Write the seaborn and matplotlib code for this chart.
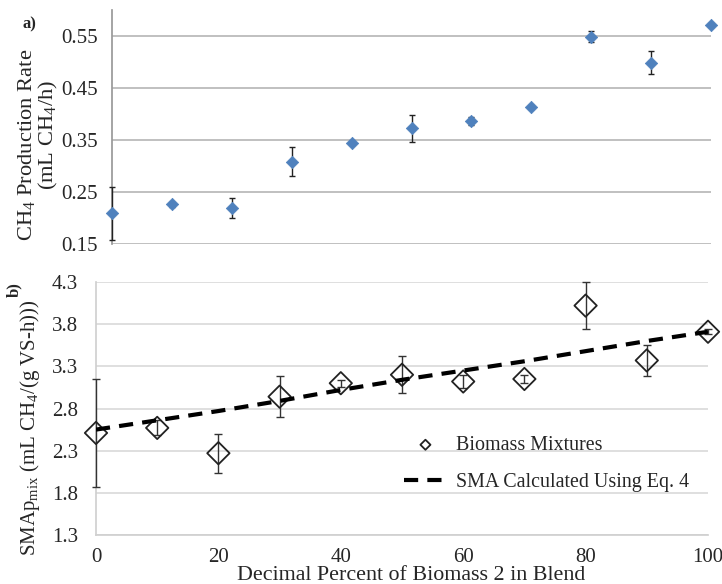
import numpy as np
import pandas as pd
import matplotlib
matplotlib.use("Agg")
import matplotlib.pyplot as plt
import seaborn as sns

# values
blend = [0, 10, 20, 30, 40, 50, 60, 70, 80, 90, 100]
rate = [0.209, 0.226, 0.219, 0.308, 0.344, 0.373, 0.387, 0.414, 0.549, 0.499, 0.571]
rate_err = [0.051, 0.004, 0.019, 0.028, 0.004, 0.026, 0.008, 0.004, 0.011, 0.023, 0.004]
sma = [2.51, 2.57, 2.27, 2.94, 3.10, 3.20, 3.12, 3.15, 4.02, 3.37, 3.71]
sma_err = [0.64, 0.09, 0.23, 0.24, 0.04, 0.22, 0.08, 0.05, 0.28, 0.18, 0.03]
sma_calc = [2.55, 2.66, 2.77, 2.89, 3.02, 3.14, 3.25, 3.36, 3.48, 3.60, 3.71]

df = pd.DataFrame({"blend": blend, "rate": rate, "rate_err": rate_err,
                   "sma": sma, "sma_err": sma_err, "sma_calc": sma_calc})

sns.set_theme(style="white")
plt.rcParams["font.family"] = ["Liberation Serif", "DejaVu Serif"]
plt.rcParams["mathtext.fontset"] = "custom"
plt.rcParams["mathtext.rm"] = "Liberation Serif"
plt.rcParams["mathtext.it"] = "Liberation Serif"

W, H = 722, 584
fig = plt.figure(figsize=(W / 100, H / 100), dpi=100)

def frac(x0, y0, x1, y1):
    return [x0 / W, 1 - y1 / H, (x1 - x0) / W, (y1 - y0) / H]

tick_fs = 15

# panel a
ax1 = fig.add_axes(frac(112, 10, 711, 244))
eb = ax1.errorbar(df["blend"], df["rate"], yerr=df["rate_err"], fmt="none",
                  ecolor="#222222", elinewidth=1.0, capsize=2.5, capthick=1.0, zorder=3)
for art in eb.lines[1] + eb.lines[2]:
    art.set_clip_on(False)
sns.scatterplot(data=df, x="blend", y="rate", marker="D", s=40, color="#4F81BD",
                edgecolor="#4F81BD", ax=ax1, zorder=4, clip_on=False, legend=False)
ax1.set_xlim(0, 100)
ax1.set_ylim(0.15, 0.6)
ax1.set_yticks([0.15, 0.25, 0.35, 0.45, 0.55])
ax1.set_yticklabels(["0.15", "0.25", "0.35", "0.45", "0.55"])
ax1.set_xticks([])
ax1.yaxis.grid(True, color="#b5b5b5", linewidth=1.2)
for s in ["top", "right", "bottom"]:
    ax1.spines[s].set_visible(False)
ax1.spines["left"].set_color("#999999")
ax1.tick_params(axis="y", length=0, pad=10.5, labelsize=tick_fs)
ax1.set_xlabel("")
ax1.set_ylabel("")

# panel b
ax2 = fig.add_axes(frac(96, 282, 708, 535))
eb2 = ax2.errorbar(df["blend"], df["sma"], yerr=df["sma_err"], fmt="none",
                   ecolor="#333333", elinewidth=1.0, capsize=3, capthick=1.0, zorder=3)
for art in eb2.lines[1] + eb2.lines[2]:
    art.set_clip_on(False)
sns.scatterplot(data=df, x="blend", y="sma", marker="D", s=130, facecolor="none",
                edgecolor="#222222", linewidth=1.3, ax=ax2, zorder=4, clip_on=False,
                label="Biomass Mixtures")
sns.lineplot(data=df, x="blend", y="sma_calc", color="black", linewidth=3,
             dashes=(3.4, 2.2), ax=ax2, zorder=5, label="SMA Calculated Using Eq. 4")
ax2.set_xlim(0, 100)
ax2.set_ylim(1.3, 4.3)
yt = [1.3, 1.8, 2.3, 2.8, 3.3, 3.8, 4.3]
ax2.set_yticks(yt)
ax2.set_yticklabels([f"{v:.1f}" for v in yt])
ax2.set_xticks([0, 20, 40, 60, 80, 100])
ax2.yaxis.grid(True, color="#d9d9d9", linewidth=1.2)
for s in ["top", "right"]:
    ax2.spines[s].set_visible(False)
ax2.spines["left"].set_color("#d0d0d0")
ax2.spines["bottom"].set_color("#d0d0d0")
ax2.tick_params(axis="y", length=0, pad=13, labelsize=tick_fs)
ax2.tick_params(axis="x", length=5, direction="inout", color="#d0d0d0", pad=7, labelsize=tick_fs)
ax2.set_xlabel("")
ax2.set_ylabel("")

leg = ax2.legend(loc="center", bbox_to_anchor=(547 / W, 1 - 464 / H),
                 bbox_transform=fig.transFigure, frameon=False, fontsize=14.4,
                 markerscale=0.45, handlelength=2.1, handletextpad=0.5,
                 labelspacing=0.9)

# texts
fig.text(27 / W, 1 - 145 / H, "CH$_4$ Production Rate", rotation=90,
         ha="center", va="center", fontsize=16.2)
fig.text(48 / W, 1 - 135 / H, "(mL CH$_4$/h)", rotation=90,
         ha="center", va="center", fontsize=16.2)
fig.text(30 / W, 1 - 428 / H, "SMAp$_{\\mathrm{mix}}$ (mL CH$_4$/(g VS-h)))", rotation=90,
         ha="center", va="center", fontsize=15)
fig.text(29 / W, 1 - 24 / H, "a)", ha="center", va="center", fontsize=12, fontweight="bold")
fig.text(14 / W, 1 - 290 / H, "b)", rotation=90, ha="center", va="center",
         fontsize=12, fontweight="bold")
fig.text(411 / W, 1 - 576 / H, "Decimal Percent of Biomass 2 in Blend",
         ha="center", va="center", fontsize=15.8)

fig.savefig("out.png", dpi=100)
